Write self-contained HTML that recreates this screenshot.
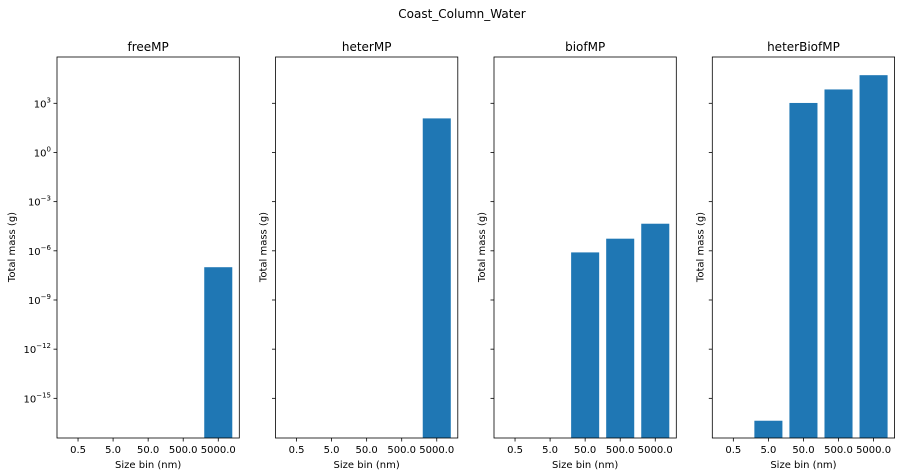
<!DOCTYPE html>
<html><head><meta charset="utf-8"><style>
body{margin:0;background:#fff;}
svg{display:block;font-family:"DejaVu Sans","Liberation Sans",sans-serif;}
</style></head><body>
<svg id="fig" width="901" height="476" viewBox="0 0 901 476">
<text x="462" y="18" font-size="12" text-anchor="middle">Coast_Column_Water</text>
</svg>
<script>
const categories = ["0.5","5.0","50.0","500.0","5000.0"];
const panelTitles = ["freeMP","heterMP","biofMP","heterBiofMP"];
// null = no bar (zero mass)
const freeMP = [null,null,null,null,1e-7];
const heterMP = [null,null,null,null,120];
const biofMP = [null,null,8e-7,5.5e-6,4.5e-5];
const heterBiofMP = [null,4.3e-17,1050,7e3,5.2e4];
const yTickExps = [3,0,-3,-6,-9,-12,-15];
const seriesList = [freeMP, heterMP, biofMP, heterBiofMP];

const svg = document.getElementById('fig');
const NS = 'http://www.w3.org/2000/svg';
const lefts = [57, 275.5, 494, 712.3];
const W = 182.3, TOP = 57, BOT = 438;
const LOGMIN = -17.42, LOGMAX = 5.825;
function yScale(v){ const l=Math.log10(v); return BOT - (l-LOGMIN)/(LOGMAX-LOGMIN)*(BOT-TOP); }
function xScale(i,left){ return left + (i+0.6)/5.2*W; }
function mk(tag, attrs){ const e=document.createElementNS(NS,tag); for(const k in attrs) e.setAttribute(k,attrs[k]); svg.appendChild(e); return e; }

seriesList.forEach((data,p)=>{
  const L = lefts[p];
  const t = mk('text',{x:L+W/2,y:51,'font-size':12,'text-anchor':'middle'});
  t.textContent = panelTitles[p];
  
  
  data.forEach((v,i)=>{
    if(v===null) return;
    const cx = xScale(i,L), bw = 0.8/5.2*W;
    const y = yScale(v);
    const r = mk('rect',{x:cx-bw/2,y:y,width:bw,height:BOT-y,fill:'#1f77b4'});
    
    
  });
  const frame = mk('rect',{x:L,y:TOP,width:W,height:BOT-TOP,fill:'none',stroke:'#000','stroke-width':0.8});
  
  
  categories.forEach((c,i)=>{
    const cx = xScale(i,L);
    mk('line',{x1:cx,x2:cx,y1:BOT,y2:BOT+3.5,stroke:'#000','stroke-width':0.8});
    const tl = mk('text',{x:cx,y:BOT+15,'font-size':10,'text-anchor':'middle'});
    tl.textContent = c;
    
    
  });
  yTickExps.forEach(e=>{
    const y = yScale(Math.pow(10,e));
    mk('line',{x1:L-3.5,x2:L,y1:y,y2:y,stroke:'#000','stroke-width':0.8});
    if(p===0){
      const tl = mk('text',{x:L-6,y:y+4,'font-size':10,'text-anchor':'end'});
      tl.innerHTML = '10<tspan dy="-5" font-size="7">'+(e<0?'\u2212'+(-e):e)+'</tspan>';
      
      
    }
  });
  const xl = mk('text',{x:L+W/2,y:468,'font-size':10,'text-anchor':'middle'});
  xl.textContent = 'Size bin (nm)';
  
  
  const yx = p===0 ? 15 : L-9;
  const yl = mk('text',{x:yx,y:247,'font-size':10,'text-anchor':'middle',transform:'rotate(-90 '+yx+' 247)'});
  yl.textContent = 'Total mass (g)';
  
  
});
</script>
</body></html>
